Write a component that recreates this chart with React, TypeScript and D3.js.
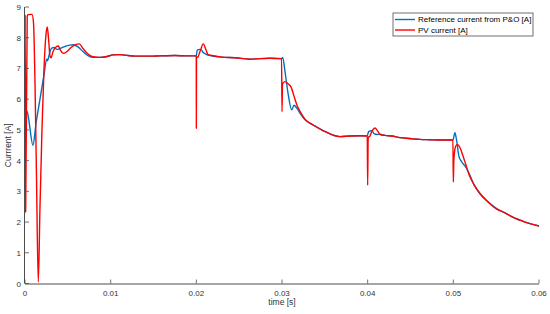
import React from "react";
import * as d3 from "d3";

const xTicks = [0, 0.01, 0.02, 0.03, 0.04, 0.05, 0.06];
const xTickLabels = ["0", "0.01", "0.02", "0.03", "0.04", "0.05", "0.06"];
const yTicks = [0, 1, 2, 3, 4, 5, 6, 7, 8, 9];

const seriesNames = ["Reference current from P&O [A]", "PV current [A]"];

const refTime = [
  0, 0.00025, 0.0004, 0.00093, 0.00128, 0.00175, 0.00222, 0.00253, 0.00263, 0.00274,
  0.00292, 0.00312, 0.00339, 0.00374, 0.00409, 0.00467, 0.00525, 0.0056, 0.00619, 0.00677,
  0.00735, 0.00794, 0.00876, 0.00957, 0.01027, 0.01109, 0.01202, 0.01284, 0.01459, 0.01576,
  0.01751, 0.01879, 0.0199, 0.01999, 0.0201, 0.0204, 0.0206, 0.0208, 0.0211, 0.0215,
  0.023, 0.02451, 0.02626, 0.02743, 0.0286, 0.02995, 0.03008, 0.03035, 0.0307, 0.03113,
  0.0314, 0.03175, 0.0321, 0.03268, 0.03362, 0.03479, 0.03595, 0.03677, 0.03794, 0.03911,
  0.03995, 0.04012, 0.0405, 0.04074, 0.0411, 0.04144, 0.04202, 0.04284, 0.04377, 0.04494,
  0.0461, 0.04728, 0.04844, 0.04995, 0.05019, 0.05036, 0.05066, 0.051, 0.05148, 0.05194,
  0.05241, 0.05311, 0.05405, 0.05506, 0.05603, 0.057, 0.05837, 0.06,
];
const refCurrent = [
  4.8, 5.6, 5.4, 4.5, 5.2, 6.0, 6.8, 7.3, 7.25, 7.35,
  7.55, 7.66, 7.68, 7.62, 7.65, 7.72, 7.76, 7.77, 7.7, 7.55,
  7.42, 7.36, 7.36, 7.39, 7.44, 7.45, 7.42, 7.4, 7.4, 7.41,
  7.42, 7.41, 7.41, 7.4, 7.6, 7.62, 7.6, 7.52, 7.47, 7.43,
  7.37, 7.35, 7.3, 7.32, 7.33, 7.32, 7.36, 6.9, 6.2, 5.65,
  5.8, 5.7, 5.55, 5.33, 5.16, 4.98, 4.83, 4.78, 4.8, 4.81,
  4.8, 4.95, 4.97, 4.88, 4.85, 4.86, 4.82, 4.8, 4.75, 4.72,
  4.69, 4.68, 4.67, 4.67, 4.91, 4.7, 4.13, 3.95, 3.78, 3.52,
  3.22, 2.92, 2.66, 2.44, 2.3, 2.15, 2.0, 1.87,
];

const pvTime = [
  0, 0.00002, 0.00008, 0.00026, 0.00035, 0.00082, 0.00099, 0.00117, 0.00134, 0.00155,
  0.00175, 0.00198, 0.00222, 0.00245, 0.0026, 0.00274, 0.00292, 0.00304, 0.00327, 0.00362,
  0.00389, 0.00409, 0.00432, 0.00455, 0.0049, 0.00537, 0.00584, 0.00634, 0.00677, 0.00735,
  0.00794, 0.00876, 0.00957, 0.01027, 0.01109, 0.01202, 0.01284, 0.01459, 0.01576, 0.01751,
  0.01879, 0.0199, 0.01999, 0.02, 0.02002, 0.0202, 0.02043, 0.02081, 0.02113, 0.02136,
  0.02183, 0.023, 0.02451, 0.02626, 0.02743, 0.0286, 0.02995, 0.03, 0.03006, 0.03035,
  0.0307, 0.03105, 0.0314, 0.03175, 0.0321, 0.03268, 0.03362, 0.03479, 0.03595, 0.03677,
  0.03794, 0.03911, 0.03995, 0.04, 0.04006, 0.04027, 0.0405, 0.04086, 0.0412, 0.04144,
  0.04202, 0.04284, 0.04377, 0.04494, 0.0461, 0.04728, 0.04844, 0.04995, 0.05, 0.05006,
  0.05025, 0.05046, 0.05078, 0.05113, 0.05148, 0.05183, 0.05241, 0.05311, 0.05405, 0.05506,
  0.05603, 0.057, 0.05837, 0.06,
];
const pvCurrent = [
  2.3, 8.75, 2.35, 8.7, 8.75, 8.76, 8.5, 6.5, 3.5, 0.05,
  2.5, 5.0, 7.0, 8.1, 8.35, 8.0, 7.4, 7.35, 7.55, 7.7,
  7.73, 7.62, 7.52, 7.49, 7.55, 7.68, 7.77, 7.8, 7.65, 7.47,
  7.38, 7.36, 7.39, 7.44, 7.45, 7.42, 7.4, 7.4, 7.41, 7.42,
  7.41, 7.41, 7.4, 5.05, 7.35, 7.38, 7.55, 7.8, 7.6, 7.45,
  7.42, 7.37, 7.35, 7.3, 7.32, 7.33, 7.32, 5.59, 6.5, 6.57,
  6.5, 6.4, 6.1, 5.8, 5.6, 5.35, 5.16, 4.98, 4.83, 4.78,
  4.8, 4.81, 4.8, 3.2, 4.75, 4.8, 4.95, 5.06, 4.95, 4.85,
  4.82, 4.8, 4.75, 4.72, 4.69, 4.68, 4.67, 4.67, 3.3, 4.0,
  4.45, 4.53, 4.42, 4.15, 3.85, 3.55, 3.22, 2.93, 2.65, 2.42,
  2.3, 2.15, 2.0, 1.87,
];

const W = 550;
const H = 314;
const margin = { left: 25, right: 11, top: 7, bottom: 30.5 };
const blue = "#0072BD";
const red = "#FF0000";
const axisColor = "#4d4d4d";
const textColor = "#333";
const font = "'Liberation Sans', Arial, sans-serif";

export default function App() {
  const x = d3.scaleLinear().domain([0, 0.06]).range([margin.left, W - margin.right]);
  const y = d3.scaleLinear().domain([0, 9]).range([H - margin.bottom, margin.top]);
  const line = d3
    .line<[number, number]>()
    .x((d) => x(d[0]))
    .y((d) => y(d[1]))
    .curve(d3.curveMonotoneX);
  const refData = refTime.map((t, i) => [t, refCurrent[i]] as [number, number]);
  const pvData = pvTime.map((t, i) => [t, pvCurrent[i]] as [number, number]);
  const x0 = x.range()[0];
  const x1 = x.range()[1];
  const y0 = y.range()[0];
  const y1 = y.range()[1];
  const lx = 393;
  const ly = 13;
  return (
    <svg
      width={W}
      height={H}
      style={{ position: "absolute", left: 0, top: 0, background: "#fff" }}
      fontFamily={font}
    >
      <rect width={W} height={H} fill="#fff" />
      <path d={line(refData) || ""} fill="none" stroke={blue} strokeWidth={1.4} />
      <path d={line(pvData) || ""} fill="none" stroke={red} strokeWidth={1.4} />
      {/* axes */}
      <line x1={x0} x2={x1} y1={y0 + 0.5} y2={y0 + 0.5} stroke={axisColor} strokeWidth={1} />
      <line x1={x0 - 0.5} x2={x0 - 0.5} y1={y0} y2={y1} stroke={axisColor} strokeWidth={1} />
      {xTicks.map((t, i) => (
        <g key={"xt" + i}>
          <line x1={x(t)} x2={x(t)} y1={y0} y2={y0 - 4} stroke={axisColor} strokeWidth={0.8} />
          <text x={x(t)} y={y0 + 12} fontSize={8} textAnchor="middle" fill={textColor}>
            {xTickLabels[i]}
          </text>
        </g>
      ))}
      {yTicks.map((v, i) => (
        <g key={"yt" + i}>
          <line x1={x0} x2={x0 + 4} y1={y(v)} y2={y(v)} stroke={axisColor} strokeWidth={0.8} />
          <text x={x0 - 4} y={y(v) + 3} fontSize={8} textAnchor="end" fill={textColor}>
            {v}
          </text>
        </g>
      ))}
      <text x={(x0 + x1) / 2} y={H - 9.5} fontSize={8.5} textAnchor="middle" fill={textColor}>
        time [s]
      </text>
      <text
        transform={`translate(11,${(y0 + y1) / 2}) rotate(-90)`}
        fontSize={8.5}
        textAnchor="middle"
        fill={textColor}
      >
        Currrent [A]
      </text>
      {/* legend */}
      <rect x={lx} y={ly} width={140} height={23} fill="#fff" stroke={axisColor} strokeWidth={0.8} />
      <line x1={lx + 2} x2={lx + 22} y1={ly + 6.5} y2={ly + 6.5} stroke={blue} strokeWidth={1.4} />
      <line x1={lx + 2} x2={lx + 22} y1={ly + 17} y2={ly + 17} stroke={red} strokeWidth={1.4} />
      <text x={lx + 25} y={ly + 9.3} fontSize={8} fill="#000">
        {seriesNames[0]}
      </text>
      <text x={lx + 25} y={ly + 19.8} fontSize={8} fill="#000">
        {seriesNames[1]}
      </text>
    </svg>
  );
}
